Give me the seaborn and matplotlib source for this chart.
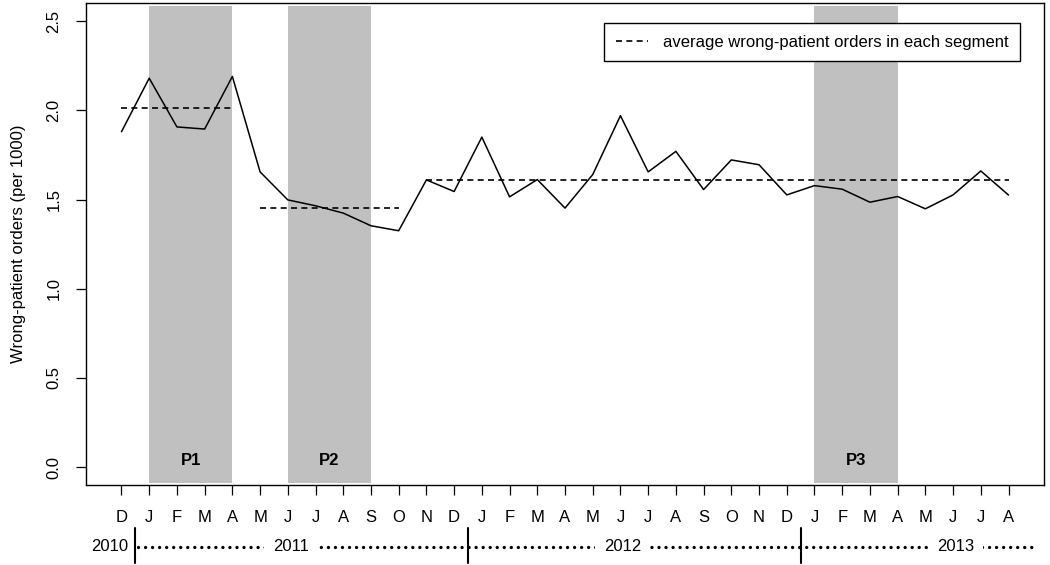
import numpy as np
import pandas as pd
import seaborn as sns
import matplotlib.pyplot as plt

# monthly wrong-patient order rate (per 1000), Dec 2010 .. Aug 2013
months = ['D', 'J', 'F', 'M', 'A', 'M', 'J', 'J', 'A', 'S', 'O', 'N', 'D',
          'J', 'F', 'M', 'A', 'M', 'J', 'J', 'A', 'S', 'O', 'N', 'D',
          'J', 'F', 'M', 'A', 'M', 'J', 'J', 'A']
rates = [1.88, 2.18, 1.907, 1.895, 2.19, 1.655, 1.498, 1.465, 1.424, 1.353,
         1.325, 1.61, 1.545, 1.85, 1.515, 1.612, 1.452, 1.64, 1.97, 1.655,
         1.77, 1.556, 1.722, 1.695, 1.526, 1.578, 1.558, 1.485, 1.517, 1.448,
         1.526, 1.66, 1.525]

# segments (first, last month index) over which the average is taken
segments = [(0, 4), (5, 10), (11, 32)]
# shaded periods
periods = ['P1', 'P2', 'P3']
period_spans = [(1, 4), (6, 9), (25, 28)]
# years shown under the month labels
years = ['2010', '2011', '2012', '2013']
year_breaks = [0.5, 12.5, 24.5]
year_pos = [0.25, 6.1, 18.07, 30.1]

df = pd.DataFrame({'idx': np.arange(len(rates)), 'rate': rates})

sns.set_theme(style='ticks')
plt.rcParams['font.family'] = ['Liberation Sans', 'DejaVu Sans']
plt.rcParams['text.color'] = 'black'

fig = plt.figure(figsize=(10.5, 5.65), dpi=100)
ax = fig.add_axes([0.0819, 0.1416, 0.9124, 0.8526])

# grey bands for the periods
for name, (a, b) in zip(periods, period_spans):
    ax.axvspan(a, b, ymin=0.005, ymax=0.995, color='#c0c0c0', lw=0, zorder=0)
    ax.text((a + b) / 2, 0.035, name, ha='center', va='center',
            fontsize=12, fontweight='bold', zorder=1)

sns.lineplot(data=df, x='idx', y='rate', ax=ax, color='black', lw=1.1,
             zorder=3, legend=False)

# segment averages
for k, (a, b) in enumerate(segments):
    m = np.mean(rates[a:b + 1])
    ax.hlines(m, a, b, colors='black', lw=1.2, linestyles=(0, (3.6, 2.6)),
              zorder=2, label='average wrong-patient orders in each segment' if k == 0 else None)

ax.set_xlim(-1.28, 33.28)
ax.set_ylim(-0.1, 2.6)
ax.set_xticks(np.arange(len(months)))
ax.set_xticklabels(months)
ax.set_yticks([0.0, 0.5, 1.0, 1.5, 2.0, 2.5])
ax.set_yticklabels(['0.0', '0.5', '1.0', '1.5', '2.0', '2.5'])
ax.tick_params(axis='both', direction='out', length=7.2, width=0.9,
               color='black', labelsize=12, labelcolor='black')
ax.tick_params(axis='x', pad=10.5)
ax.tick_params(axis='y', pad=10.5)
plt.setp(ax.get_yticklabels(), rotation=90, va='center')

ax.set_xlabel('')
ax.set_ylabel('Wrong-patient orders (per 1000)', fontsize=12, color='black')
ax.yaxis.set_label_coords(-0.063, 0.5)

for s in ax.spines.values():
    s.set_visible(True)
    s.set_color('black')
    s.set_linewidth(1.0)

leg = ax.legend(loc='upper right', bbox_to_anchor=(0.975, 0.959),
                borderaxespad=0, fontsize=12, frameon=True, fancybox=False,
                handlelength=1.9, handletextpad=0.9, borderpad=0.7)
leg.get_frame().set_edgecolor('black')
leg.get_frame().set_linewidth(1.0)
leg.get_frame().set_alpha(1)
leg.set_zorder(5)

# year row under the month labels
tr = ax.get_xaxis_transform()
ax.plot([0.6, 32.9], [-0.128, -0.128], transform=tr, clip_on=False,
        color='black', lw=2.4, ls=(0, (0.01, 2.1)), dash_capstyle='round',
        zorder=2)
for k, (yr, xp) in enumerate(zip(years, year_pos)):
    ax.text(xp, -0.128, yr, transform=tr, fontsize=12,
            ha='right' if k == 0 else 'center', va='center', clip_on=False,
            zorder=3,
            bbox=dict(boxstyle='square,pad=0.5', fc='white', ec='none'))
for xb in year_breaks:
    ax.plot([xb, xb], [-0.089, -0.162], transform=tr, clip_on=False,
            color='black', lw=1.5, zorder=4)

fig.savefig('out.png', dpi=100)
